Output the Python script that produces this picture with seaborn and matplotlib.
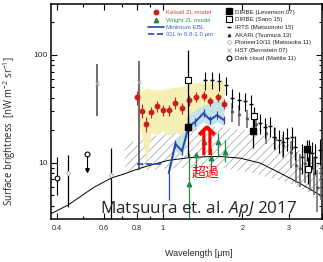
import matplotlib
matplotlib.use("Agg")
import matplotlib.pyplot as plt
import seaborn as sns
import numpy as np
import pandas as pd
from matplotlib.lines import Line2D
from matplotlib.ticker import FixedLocator, NullFormatter

# ---- Kelsall ZL model (red circles) ----
kelsall_wl = [0.80, 0.836, 0.866, 0.904, 0.952, 1.003, 1.054, 1.117, 1.184, 1.254, 1.341, 1.428, 1.514, 1.613, 1.71]
kelsall_val = [40.5, 30.4, 22.9, 29.6, 33.6, 30.9, 30.9, 36.1, 32.0, 38.2, 41.0, 41.9, 37.4, 40.5, 35.1]
kelsall_err = [6.0, 4.3, 3.8, 3.6, 4.0, 3.7, 3.7, 4.3, 3.8, 4.6, 4.1, 4.2, 3.7, 4.0, 3.5]
kelsall_hi = [55, 46, 49, 48, 47, 48, 49, 50, 51, 54, 55, 56, 57, 57, 57]
kelsall_lo = [27, 18, 10, 19, 18, 20, 18, 19, 18, 21, 24, 27, 27, 28, 28]

# ---- Wright ZL model (green triangles) ----
wright_wl = [1.254, 1.341, 1.428, 1.528, 1.619, 1.715]
wright_val = [6.4, 11.8, 15.7, 11.0, 15.7, 12.6]
wright_lo = [4.0, 3.8, 4.3, 3.0, 4.3, 2.4]
wright_hi = [6.0, 0.8, 3.1, 2.6, 3.1, 3.6]

# ---- Minimum EBL (blue line) ----
ebl_wl = [1.055, 1.117, 1.184, 1.254, 1.33, 1.428, 1.514, 1.605, 1.70]
ebl_val = [8.0, 15.0, 12.8, 21.6, 24.0, 28.8, 24.9, 27.7, 24.9]
ebl_lo = [3.5, 1.3, 1.1, 1.8, 2.0, 2.4, 2.1, 2.3, 2.1]
ebl_hi = [0.0, 1.3, 1.1, 1.8, 2.0, 2.4, 2.1, 2.3, 2.1]
ebl_band_hi = [9, 17, 18, 28, 31, 34, 36, 38, 38]
ebl_band_lo = [7.5, 13, 11.5, 19, 21, 24, 22, 24, 22]

# ---- IGL in 0.8-1.0 um (blue dashed) ----
igl_wl = [0.80, 1.0]
igl_val = [9.7, 9.7]

# ---- model curve and hatched band ----
curve_wl = [0.378, 0.44, 0.55, 0.64, 0.72, 0.78, 0.9, 1.05, 1.25, 1.5, 1.65, 1.97, 2.34, 2.78, 3.31, 3.94, 4.0]
curve_val = [3.35, 4.05, 5.9, 7.2, 7.9, 8.5, 9.5, 10.5, 11.1, 11.4, 11.4, 11.0, 9.9, 8.0, 6.4, 5.0, 4.9]
hatch_wl = [0.72, 0.85, 1.0, 1.3, 1.65, 2.2, 2.95, 3.4, 4.0]
hatch_hi = [15, 16.5, 18.5, 21, 21.5, 19.4, 15.1, 12.5, 10.3]
hatch_lo = [8.3, 8.5, 8.8, 9, 9, 8, 6.5, 5.6, 4.7]

# ---- observations ----
lev_wl = [1.25, 2.2, 3.5]
lev_val = [21.3, 19.8, 13.3]
lev_lo = [10.0, 6.2, 3.0]
lev_hi = [5.0, 6.9, 3.0]

sano_wl = [1.25, 2.22, 3.53]
sano_val = [59.0, 27.2, 8.8]
sano_lo = [38.0, 6.0, 2.5]
sano_hi = [52.0, 6.0, 2.5]

irts_wl = [1.44, 1.54, 1.63, 1.73, 1.83, 1.94, 2.05, 2.16, 2.34, 2.44, 2.55, 2.63,
           2.74, 2.86, 2.95, 3.08, 3.17, 3.36, 3.56, 3.66, 3.77, 3.94]
irts_val = [58, 59, 57, 52, 40, 38, 37, 35, 23.5, 21.6, 21.9, 17.4,
            16.3, 15.6, 16.8, 17.2, 14.1, 11.4, 12.6, 12.2, 11.4, 13.1]
irts_err = [11, 11, 11, 10, 8, 7, 7, 7, 5, 4.5, 4.5, 4,
            4, 4, 4, 4, 3.5, 3.5, 3.5, 3.5, 3.5, 3.5]

akari_wl = [1.83, 1.95, 2.08, 2.25, 2.45, 2.65, 2.85, 3.05, 3.2, 3.3, 3.45, 3.6, 3.72, 3.83, 3.95]
akari_val = [30, 28, 26, 23, 19, 17, 14.5, 12.5, 9.5, 9, 10, 9, 8, 6, 7.5]
akari_err = [6, 6, 5, 5, 4, 4, 3.5, 3.5, 3, 3, 3.5, 3.5, 3, 2.5, 3]

pioneer_wl = [0.44, 0.64]
pioneer_val = [8.0, 7.7]
pioneer_lo = [4.1, 5.0]
pioneer_hi = [3.8, 5.9]

hst_wl = [0.565, 0.812]
hst_val = [55.0, 56.5]
hst_lo = [28.0, 48.0]
hst_hi = [28.0, 32.0]

dark_wl = [0.40]
dark_val = [7.2]
dark_lo = [2.2]
dark_hi = [4.2]
dark_ul_wl = [0.52]
dark_ul_val = [12.0]
dark_ul_len = [3.5]

RED = "#c9201d"
GREEN = "#1f8a45"
BLUE = "#2347b3"

sns.set_style("ticks")
plt.rcParams['font.family'] = ['Liberation Sans', 'DejaVu Sans']
plt.rcParams['mathtext.fontset'] = 'custom'
plt.rcParams['mathtext.rm'] = 'Open Sans'
plt.rcParams['mathtext.it'] = 'Open Sans:italic'
plt.rcParams['hatch.linewidth'] = 0.5

fig = plt.figure(figsize=(3.23, 2.62), dpi=100)
ax = fig.add_axes([0.157, 0.164, 0.840, 0.821])
ax.set_xscale('log')
ax.set_yscale('log')

# bands
ax.fill_between(hatch_wl, hatch_lo, hatch_hi, facecolor='none', edgecolor='#a0a0a0',
                hatch='////', linewidth=0, zorder=1)
ax.fill_between(kelsall_wl, kelsall_lo, kelsall_hi, color='#f6efb4', linewidth=0, zorder=2)
ax.fill_between(ebl_wl, ebl_band_lo, ebl_band_hi, color='#c4e3e6', linewidth=0, zorder=3)

# lines
sns.lineplot(x=curve_wl, y=curve_val, ax=ax, color='black', lw=0.7, zorder=4)
sns.lineplot(x=igl_wl, y=igl_val, ax=ax, color=BLUE, lw=1.2, linestyle='--', zorder=6)
sns.lineplot(x=ebl_wl, y=ebl_val, ax=ax, color=BLUE, lw=1.4, zorder=6)

# points with error bars
ax.errorbar(ebl_wl, ebl_val, yerr=[ebl_lo, ebl_hi], fmt='none', ecolor=BLUE, elinewidth=0.9, zorder=6)
ax.errorbar(hst_wl, hst_val, yerr=[hst_lo, hst_hi], fmt='x', color='#b0b0b0', ecolor='#555555',
            ms=3, mew=0.7, elinewidth=1.2, zorder=5)
ax.errorbar(pioneer_wl, pioneer_val, yerr=[pioneer_lo, pioneer_hi], fmt='D', mfc='white', mec='#b0b0b0',
            ecolor='black', ms=2.2, mew=0.6, elinewidth=0.9, zorder=5)
ax.errorbar(dark_wl, dark_val, yerr=[dark_lo, dark_hi], fmt='o', mfc='white', mec='black',
            ecolor='black', ms=3.5, mew=0.8, elinewidth=0.8, zorder=5)
ax.errorbar(dark_ul_wl, dark_ul_val, yerr=[dark_ul_len, [0]], fmt='o', mfc='white', mec='black',
            ecolor='black', ms=3.5, mew=0.8, elinewidth=0.8, zorder=5)
ax.scatter(dark_ul_wl, np.array(dark_ul_val) - np.array(dark_ul_len), marker='v', s=6,
           color='black', zorder=5)
ax.errorbar(akari_wl, akari_val, yerr=akari_err, fmt='^', color='#555555', ecolor='#666666',
            ms=1.6, elinewidth=1.1, zorder=5)
ax.errorbar(irts_wl, irts_val, yerr=irts_err, fmt='_', color='black', ecolor='black',
            ms=3, mew=1.0, elinewidth=0.8, zorder=6)
ax.errorbar(kelsall_wl, kelsall_val, yerr=kelsall_err, fmt='o', color=RED, ecolor=RED,
            ms=3.2, elinewidth=0.8, zorder=7)
ax.errorbar(wright_wl, wright_val, yerr=[wright_lo, wright_hi], fmt='^', color=GREEN, ecolor=GREEN,
            ms=3.2, elinewidth=0.9, zorder=7)
ax.errorbar(lev_wl, lev_val, yerr=[lev_lo, lev_hi], fmt='s', color='black', ecolor='black',
            ms=4, elinewidth=0.9, zorder=8)
ax.errorbar(sano_wl, sano_val, yerr=[sano_lo, sano_hi], fmt='s', mfc='white', mec='black',
            ecolor='black', ms=4, mew=0.8, elinewidth=0.9, zorder=8)

# axes, ticks
ax.set_xlim(0.378, 4.0)
ax.set_ylim(3.0, 297)
ax.xaxis.set_major_locator(FixedLocator([0.4, 0.6, 0.8, 1, 2, 3, 4]))
ax.set_xticklabels(['0.4', '0.6', '0.8', '1', '2', '3', '4'])
ax.xaxis.set_minor_locator(FixedLocator([0.5, 0.7, 0.9]))
ax.xaxis.set_minor_formatter(NullFormatter())
ax.yaxis.set_major_locator(FixedLocator([10, 100]))
ax.set_yticklabels(['10', '100'])
ax.yaxis.set_minor_locator(FixedLocator([4, 5, 6, 7, 8, 9, 20, 30, 40, 50, 60, 70, 80, 90, 200]))
ax.yaxis.set_minor_formatter(NullFormatter())
ax.tick_params(which='both', direction='in', top=True, right=True, width=0.8, color='black')
ax.tick_params(which='major', length=4)
ax.tick_params(which='minor', length=2.5)
ax.tick_params(axis='x', labelsize=5.2, pad=4)
ax.tick_params(axis='y', labelsize=6, pad=2)
for sp in ax.spines.values():
    sp.set_linewidth(1.1)
    sp.set_color('black')

ax.set_xlabel("Wavelength [μm]", fontsize=6.5)
ax.xaxis.set_label_coords(0.545, -0.14)
ax.set_ylabel(r"Surface brightness  [nW m$^{-2}$ sr$^{-1}$]", fontsize=6.9, family='Open Sans')
ax.yaxis.set_label_coords(-0.122, 0.41)

# legends
left_handles = [
    Line2D([], [], marker='o', color=RED, ls='none', ms=3.2),
    Line2D([], [], marker='^', color=GREEN, ls='none', ms=3.2),
    Line2D([], [], color=BLUE, lw=1.2),
    Line2D([], [], color=BLUE, lw=1.2, ls='--'),
]
left_labels = ["Kelsall ZL model", "Wright ZL model", "Minimum EBL", "IGL in 0.8-1.0 μm"]
leg1 = ax.legend(left_handles, left_labels, loc='upper left', bbox_to_anchor=(0.357, 0.972),
                 frameon=False, fontsize=4.4, handlelength=2.7, handletextpad=0.3,
                 labelspacing=0.35, borderpad=0, borderaxespad=0,
                 labelcolor=['#d9413b', '#2b9a4f', '#3d63c4', '#3d63c4'])
ax.add_artist(leg1)

right_handles = [
    Line2D([], [], marker='s', color='black', ls='none', ms=4),
    Line2D([], [], marker='s', mfc='white', mec='black', ls='none', ms=4, mew=0.8),
    Line2D([], [], marker='_', color='black', ls='none', ms=3, mew=1.0),
    Line2D([], [], marker='^', color='#333333', ls='none', ms=1.8),
    Line2D([], [], marker='D', mfc='white', mec='#b0b0b0', ls='none', ms=2.4, mew=0.6),
    Line2D([], [], marker='x', color='#b0b0b0', ls='none', ms=3, mew=0.7),
    Line2D([], [], marker='o', mfc='white', mec='black', ls='none', ms=3.5, mew=0.8),
]
right_labels = ["DIRBE (Levenson 07)", "DIRBE (Sano 15)", "IRTS (Matsumoto 15)",
                "AKARI (Tsumura 13)", "Pioneer10/11 (Matsuoka 11)", "HST (Bernstein 07)",
                "Dark cloud (Mattila 11)"]
ax.legend(right_handles, right_labels, loc='upper left', bbox_to_anchor=(0.645, 0.975),
          frameon=False, fontsize=4.4, handlelength=1.0, handletextpad=0.6,
          labelspacing=0.4, borderpad=0, borderaxespad=0, labelcolor='#222222')

# annotations
ax.text(0.572, 0.35, "⇑", transform=ax.transAxes, color='red', fontsize=29,
        fontweight='bold', ha='center', va='center', family='DejaVu Sans', zorder=9)
ax.text(0.569, 0.214, "超過", transform=ax.transAxes, color='red', fontsize=10,
        ha='center', va='center', family=['Noto Sans CJK JP'], zorder=9)
ax.text(0.545, 0.028, r"Matsuura et. al. $\it{ApJ}$ 2017", transform=ax.transAxes,
        fontsize=12.3, ha='center', va='baseline', family='Open Sans', zorder=9)

fig.savefig("out.png", dpi=100)
